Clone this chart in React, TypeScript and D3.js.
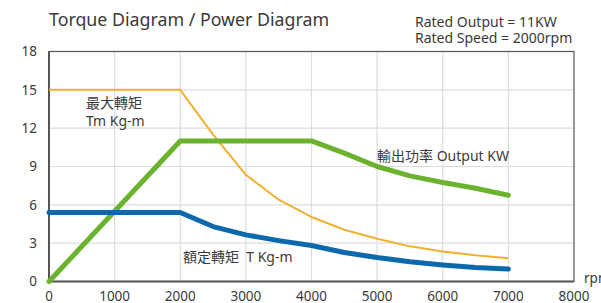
import React from "react";
import * as d3 from "d3";

// chart values
const rpmTicks = [0, 1000, 2000, 3000, 4000, 5000, 6000, 7000, 8000];
const valueTicks = [0, 3, 6, 9, 12, 15, 18];

const maxTorqueRpm = [0, 2000, 2500, 3000, 3500, 4000, 4500, 5000, 5500, 6000, 6500, 7000];
const maxTorque = [15, 15, 11.5, 8.35, 6.4, 5.05, 4.05, 3.35, 2.75, 2.35, 2.05, 1.82];

const ratedTorqueRpm = [0, 2000, 2500, 3000, 3500, 4000, 4500, 5000, 5500, 6000, 6500, 7000];
const ratedTorque = [5.4, 5.4, 4.3, 3.65, 3.2, 2.82, 2.27, 1.88, 1.55, 1.3, 1.1, 0.97];

const powerRpm = [0, 2000, 4000, 4500, 5000, 5500, 6000, 6500, 7000];
const power = [0, 11, 11, 10.05, 9.0, 8.27, 7.75, 7.3, 6.75];

const W = 601;
const H = 303;
const margin = { top: 51.5, right: 27, bottom: 21.5, left: 49 };

const font = "'Noto Sans', 'Noto Sans CJK TC', sans-serif";
const textColor = "#3a3a3a";

export default function App() {
  const x = d3
    .scaleLinear()
    .domain([0, 8000])
    .range([margin.left, W - margin.right]);
  const y = d3
    .scaleLinear()
    .domain([0, 18])
    .range([H - margin.bottom, margin.top]);

  const line = d3
    .line<[number, number]>()
    .x((d) => x(d[0]))
    .y((d) => y(d[1]));

  const maxPts = maxTorqueRpm.map((r, i) => [r, maxTorque[i]] as [number, number]);
  const ratedPts = ratedTorqueRpm.map((r, i) => [r, ratedTorque[i]] as [number, number]);
  const powerPts = powerRpm.map((r, i) => [r, power[i]] as [number, number]);

  return (
    <svg
      width={W}
      height={H}
      style={{ position: "absolute", left: 0, top: 0, background: "#fff" }}
      fontFamily={font}
    >
      {/* grid */}
      {rpmTicks.slice(1, -1).map((t) => (
        <line key={"gx" + t} x1={x(t)} x2={x(t)} y1={y(18)} y2={y(0)} stroke="#dcdcdc" strokeWidth={1.2} />
      ))}
      {valueTicks.slice(1, -1).map((t) => (
        <line key={"gy" + t} x1={x(0)} x2={x(8000)} y1={y(t)} y2={y(t)} stroke="#dcdcdc" strokeWidth={1.2} />
      ))}

      {/* frame */}
      <rect
        x={x(0)}
        y={y(18)}
        width={x(8000) - x(0)}
        height={y(0) - y(18)}
        fill="none"
        stroke="#555"
        strokeWidth={1.2}
      />
      <line x1={x(0)} x2={x(0)} y1={y(18)} y2={y(0)} stroke="#5a5450" strokeWidth={2} />
      <line x1={x(0)} x2={x(8000)} y1={y(0)} y2={y(0)} stroke="#5a5450" strokeWidth={2} />

      {/* tick labels */}
      {valueTicks.map((t) => (
        <text key={"ly" + t} x={37} y={y(t)} dy="0.35em" textAnchor="end" fontSize={13.5} fill={textColor}>
          {t}
        </text>
      ))}
      {rpmTicks.map((t) => (
        <text key={"lx" + t} x={x(t)} y={301} textAnchor="middle" fontSize={13.5} fill={textColor}>
          {t}
        </text>
      ))}
      <text x={584} y={283} fontSize={13.5} fill={textColor}>
        rpm
      </text>

      {/* series */}
      <path d={line(maxPts) || ""} fill="none" stroke="#f0b132" strokeWidth={2} strokeLinejoin="round" />
      <path d={line(powerPts) || ""} fill="none" stroke="#6bb32e" strokeWidth={5} strokeLinejoin="round" strokeLinecap="round" />
      <path d={line(ratedPts) || ""} fill="none" stroke="#0b68ad" strokeWidth={5} strokeLinejoin="round" strokeLinecap="round" />

      {/* series labels */}
      <text x={86} y={108} fontSize={14} fill={textColor}>最大轉矩</text>
      <text x={86} y={125.5} fontSize={14} fill={textColor}>Tm Kg-m</text>
      <text x={183} y={262} fontSize={14} fill={textColor}>額定轉矩&#160;&#160;T Kg-m</text>
      <text x={377} y={161} fontSize={14} fill={textColor}>輸出功率 Output KW</text>

      {/* titles */}
      <text x={49} y={25.5} fontSize={17.8} fill={textColor}>
        Torque Diagram / Power Diagram
      </text>
      <text x={415} y={27} fontSize={14} fill={textColor}>
        Rated Output = 11KW
      </text>
      <text x={415} y={43} fontSize={14} fill={textColor}>
        Rated Speed = 2000rpm
      </text>
    </svg>
  );
}
